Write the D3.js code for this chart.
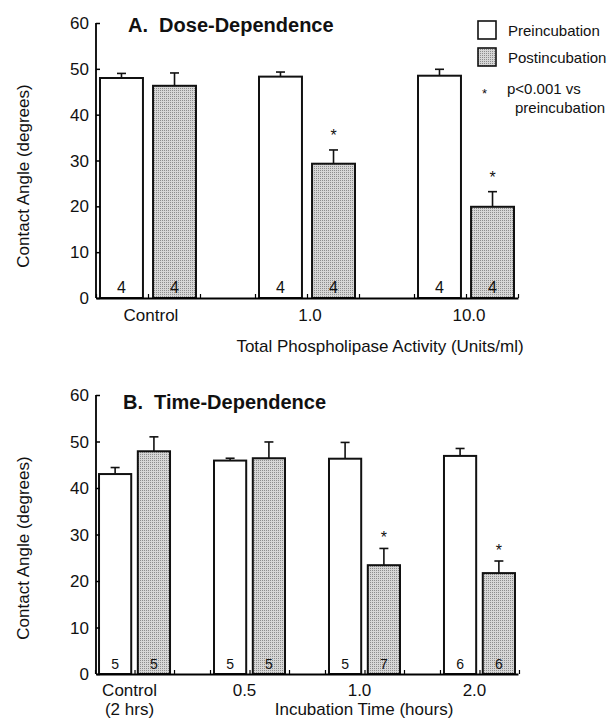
<!DOCTYPE html>
<html>
<head>
<meta charset="utf-8">
<script src="https://cdn.jsdelivr.net/npm/d3@7"></script>
<style>
  body { margin: 0; background: #fff; }
  svg text { font-family: "Liberation Sans", Arial, Helvetica, sans-serif; fill: #111; }
</style>
</head>
<body>
<svg id="chart" width="610" height="719"></svg>
<script>
// panel A: dose dependence
var doseCats = ["Control", "1.0", "10.0"];
var dosePre = [48.0, 48.3, 48.5];
var dosePreErr = [1.0, 1.0, 1.4];
var dosePost = [46.3, 29.3, 19.9];
var dosePostErr = [2.8, 3.0, 3.3];
var doseNPre = [4, 4, 4];
var doseNPost = [4, 4, 4];
var doseSig = [false, true, true];

// panel B: time dependence
var timeCats = ["Control|(2 hrs)", "0.5", "1.0", "2.0"];
var timePre = [43.0, 45.9, 46.3, 46.9];
var timePreErr = [1.4, 0.5, 3.5, 1.6];
var timePost = [47.9, 46.4, 23.4, 21.7];
var timePostErr = [3.1, 3.5, 3.6, 2.6];
var timeNPre = [5, 5, 5, 6];
var timeNPost = [5, 5, 7, 6];
var timeSig = [false, false, true, true];

var yTicks = [0, 10, 20, 30, 40, 50, 60];

var svg = d3.select("#chart");

var defs = svg.append("defs");
var pat = defs.append("pattern")
  .attr("id", "stipple")
  .attr("width", 2).attr("height", 2)
  .attr("patternUnits", "userSpaceOnUse");
pat.append("rect").attr("width", 2).attr("height", 2).attr("fill", "#d6d6d6");
pat.append("rect").attr("width", 1).attr("height", 1).attr("fill", "#8c8c8c");

function drawPanel(opt) {
  var g = svg.append("g");
  var x = d3.scalePoint()
    .domain(opt.cats)
    .range([opt.left, opt.right])
    .padding(opt.pad);
  var y = d3.scaleLinear().domain([0, 60]).range([opt.bottom, opt.top]);

  var rows = opt.cats.map(function(c, i) {
    return [
      {cat: c, key: "pre", v: opt.pre[i], e: opt.preErr[i], n: opt.nPre[i], sig: false},
      {cat: c, key: "post", v: opt.post[i], e: opt.postErr[i], n: opt.nPost[i], sig: opt.sig[i]}
    ];
  });
  var flat = [].concat.apply([], rows);

  var sub = d3.scaleBand().domain(["pre", "post"])
    .range([-opt.half, opt.half]).paddingInner(opt.inner);
  var cx = function(d) { return x(d.cat) + sub(d.key) + sub.bandwidth() / 2; };

  // error bars
  var eb = g.selectAll(".err").data(flat).join("g");
  eb.append("line")
    .attr("x1", cx).attr("x2", cx)
    .attr("y1", function(d) { return y(d.v); })
    .attr("y2", function(d) { return y(d.v + d.e); })
    .attr("stroke", "#111").attr("stroke-width", 1.6);
  eb.append("line")
    .attr("x1", function(d) { return cx(d) - 4.5; })
    .attr("x2", function(d) { return cx(d) + 4.5; })
    .attr("y1", function(d) { return y(d.v + d.e); })
    .attr("y2", function(d) { return y(d.v + d.e); })
    .attr("stroke", "#111").attr("stroke-width", 1.6);

  // bars
  g.selectAll(".bar").data(flat).join("rect")
    .attr("x", function(d) { return x(d.cat) + sub(d.key); })
    .attr("width", sub.bandwidth())
    .attr("y", function(d) { return y(d.v); })
    .attr("height", function(d) { return y(0) - y(d.v); })
    .attr("fill", function(d) { return d.key == "pre" ? "#fff" : "url(#stipple)"; })
    .attr("stroke", "#111").attr("stroke-width", 2);

  // n counts
  g.selectAll(".cnt").data(flat).join("text")
    .attr("x", cx)
    .attr("y", opt.bottom - 5)
    .attr("text-anchor", "middle")
    .style("font-size", opt.cntSize + "px")
    .text(function(d) { return d.n; });

  // significance stars
  g.selectAll(".star").data(flat.filter(function(d) { return d.sig; })).join("text")
    .attr("x", cx)
    .attr("y", function(d) { return y(d.v + d.e) - opt.starOff; })
    .attr("text-anchor", "middle")
    .style("font-size", "16px")
    .text("*");

  // y axis, ticks pointing in
  var yAxis = d3.axisRight(y).tickValues(yTicks).tickSize(4).tickFormat("");
  var ya = g.append("g").attr("transform", "translate(" + opt.left + ",0)").call(yAxis);
  ya.select(".domain").attr("stroke-width", 1.8).attr("d", "M0," + opt.top + "V" + opt.bottom);
  ya.selectAll(".tick line").attr("stroke-width", 1.5);
  g.selectAll(".ylab").data(yTicks).join("text")
    .attr("x", opt.left - 7)
    .attr("y", function(d) { return y(d) + 6; })
    .attr("text-anchor", "end")
    .style("font-size", "17px")
    .text(function(d) { return d; });

  // x axis with small upward ticks around each group
  var tickPos = [];
  opt.cats.forEach(function(c) {
    tickPos.push(x(c) - opt.half - 4, x(c), x(c) + opt.half + 4);
  });
  var xs = d3.scaleLinear().domain([opt.left, opt.right]).range([opt.left, opt.right]);
  var xAxis = d3.axisTop(xs).tickValues(tickPos).tickSize(4).tickSizeOuter(0).tickFormat("");
  var xa = g.append("g").attr("transform", "translate(0," + opt.bottom + ")").call(xAxis);
  xa.select(".domain").attr("stroke-width", 2);
  xa.selectAll(".tick line").attr("stroke-width", 1.2);

  // category labels
  g.selectAll(".xlab").data(opt.cats).join("text")
    .attr("x", function(d) { return x(d) + opt.labShift; })
    .attr("y", opt.labY)
    .attr("text-anchor", "middle")
    .style("font-size", "17px")
    .each(function(d) {
      var parts = d.split("|");
      d3.select(this).selectAll("tspan").data(parts).join("tspan")
        .attr("x", x(d) + opt.labShift)
        .attr("dy", function(p, i) { return i ? 19 : 0; })
        .text(function(p) { return p; });
    });

  // axis titles
  g.append("text")
    .attr("transform", "translate(" + 29 + "," + opt.yTitleY + ") rotate(-90)")
    .attr("text-anchor", "middle")
    .style("font-size", "17px")
    .text("Contact Angle (degrees)");
  g.append("text")
    .attr("x", opt.xTitleX).attr("y", opt.xTitleY)
    .attr("text-anchor", "middle")
    .style("font-size", "17px")
    .text(opt.xTitle);
  g.append("text")
    .attr("x", opt.titleX).attr("y", opt.titleY)
    .style("font-size", "20px").style("font-weight", "bold")
    .attr("xml:space", "preserve")
    .text(opt.title);
  return g;
}

drawPanel({
  cats: doseCats, pre: dosePre, preErr: dosePreErr, post: dosePost, postErr: dosePostErr,
  nPre: doseNPre, nPost: doseNPost, sig: doseSig,
  left: 96, right: 518, top: 23, bottom: 298, pad: 0.327,
  half: 48, inner: 0.19, cntSize: 16, starOff: 9, labShift: 3, labY: 321,
  title: "A.  Dose-Dependence", titleX: 128, titleY: 32, yTitleY: 176,
  xTitle: "Total Phospholipase Activity (Units/ml)", xTitleX: 380, xTitleY: 352
});

drawPanel({
  cats: timeCats, pre: timePre, preErr: timePreErr, post: timePost, postErr: timePostErr,
  nPre: timeNPre, nPost: timeNPost, sig: timeSig,
  left: 96, right: 518, top: 395, bottom: 674, pad: 0.335,
  half: 35.5, inner: 0.17, cntSize: 14, starOff: 5, labShift: -5, labY: 696,
  title: "B.  Time-Dependence", titleX: 123, titleY: 409, yTitleY: 548,
  xTitle: "Incubation Time (hours)", xTitleX: 364, xTitleY: 715
});

// legend
var legendItems = ["Preincubation", "Postincubation"];
var lg = svg.append("g").attr("transform", "translate(478,21)");
lg.selectAll("rect").data(legendItems).join("rect")
  .attr("x", 0).attr("y", function(d, i) { return i * 27; })
  .attr("width", 18).attr("height", 18)
  .attr("fill", function(d, i) { return i ? "url(#stipple)" : "#fff"; })
  .attr("stroke", "#111").attr("stroke-width", 1.6);
lg.selectAll("text.item").data(legendItems).join("text")
  .attr("class", "item")
  .attr("x", 30).attr("y", function(d, i) { return i * 27 + 15; })
  .style("font-size", "15px")
  .text(function(d) { return d; });
lg.append("text").attr("x", 4).attr("y", 77).style("font-size", "13px").text("*");
lg.append("text").attr("x", 29).attr("y", 73).style("font-size", "15px").text("p<0.001 vs");
lg.append("text").attr("x", 37).attr("y", 92).style("font-size", "15px").text("preincubation");
</script>
</body>
</html>
